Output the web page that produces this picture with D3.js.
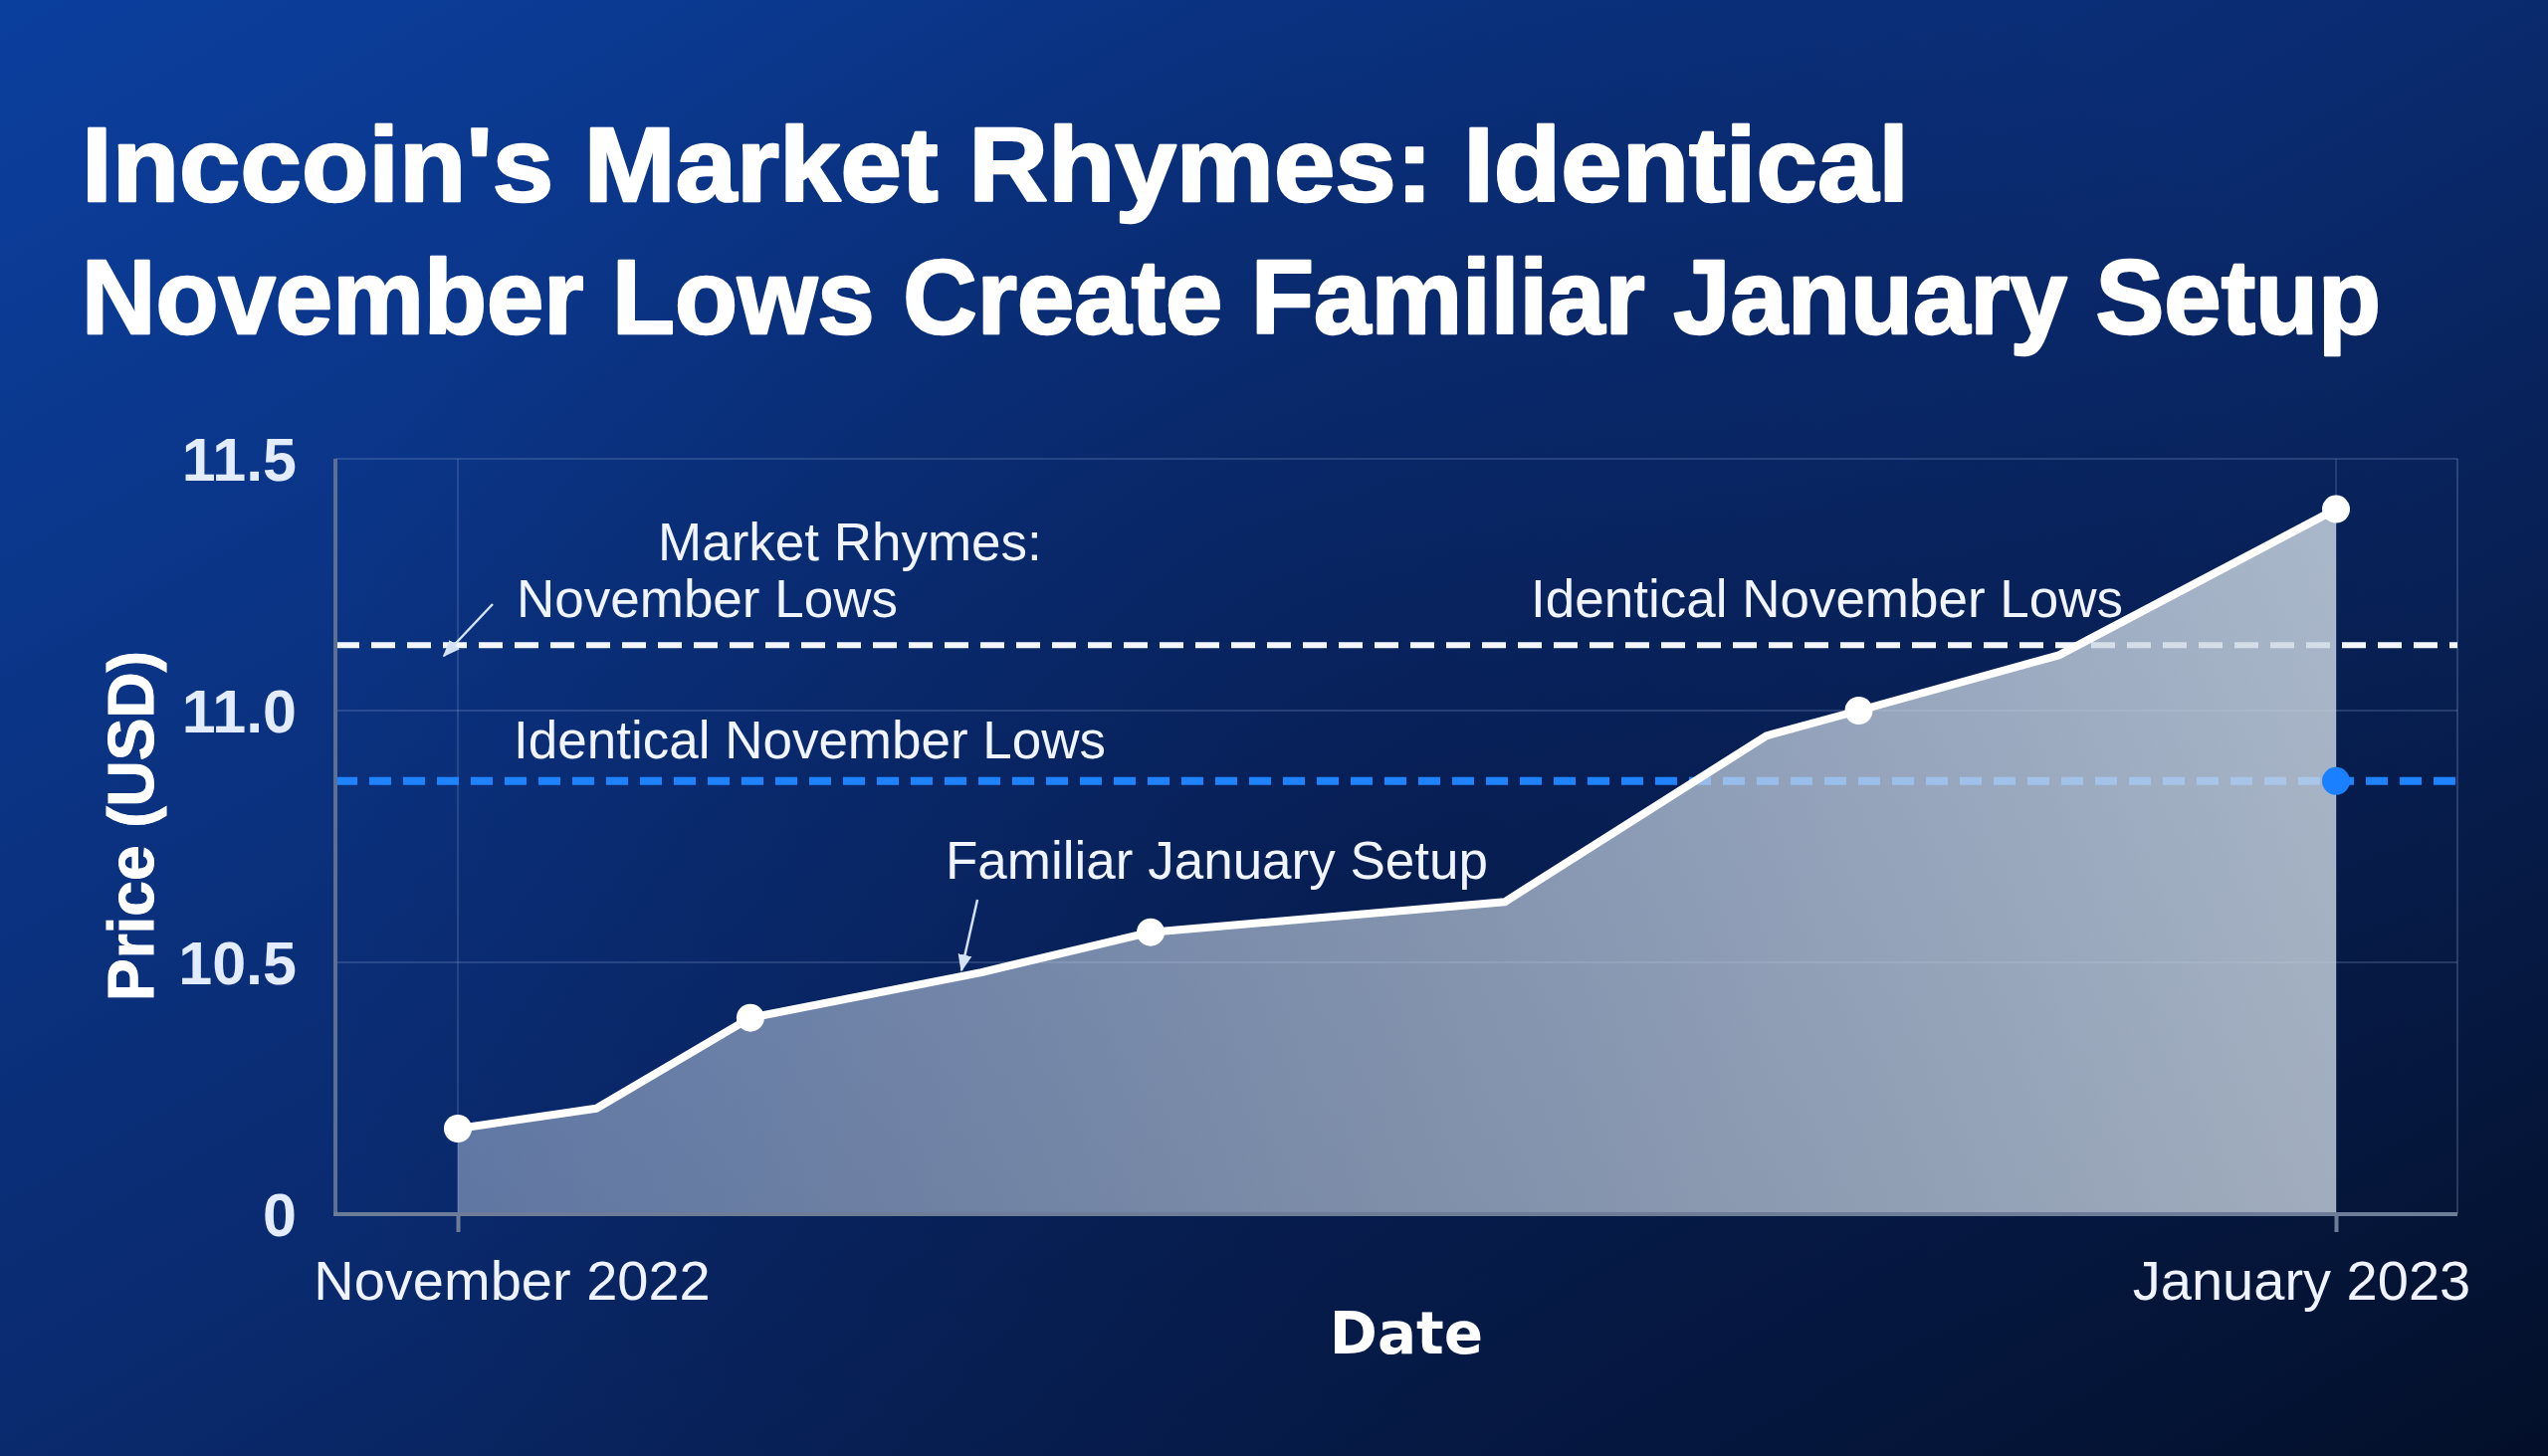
<!DOCTYPE html>
<html>
<head>
<meta charset="utf-8">
<script src="https://cdn.jsdelivr.net/npm/d3@7"></script>
<style>
html, body { margin: 0; padding: 0; background: #0a2a6e; overflow: hidden; }
svg { display: block; }
</style>
</head>
<body>
<script>
// ---------------- data ----------------
const titleLines = ["Inccoin's Market Rhymes: Identical", "November Lows Create Familiar January Setup"];
const dates  = ["2022-11-01T00:00", "2022-11-05T12:00", "2022-11-10T12:00", "2022-11-18T00:00", "2022-11-23T12:00",
                "2022-12-05T00:00", "2022-12-13T12:00", "2022-12-16T12:00", "2022-12-23T00:00", "2023-01-01T00:00"];
const prices = [10.17, 10.21, 10.39, 10.48, 10.56, 10.62, 10.95, 11.00, 11.11, 11.40];
const markedIndex = [0, 2, 4, 7, 9];
const whiteLevel = 11.13;   // "Market Rhymes: November Lows"
const blueLevel  = 10.86;   // "Identical November Lows"
const blueDotDate = "2023-01-01T00:00";
const yTickValues = [10, 10.5, 11, 11.5];
const yTickLabels = ["0", "10.5", "11.0", "11.5"];
const xTickDates  = ["2022-11-01T00:00", "2023-01-01T00:00"];
const xTickLabels = ["November 2022", "January 2023"];
const yTitle = "Price (USD)";
const xTitle = "Date";
const annWhite = ["Market Rhymes:", "November Lows"];
const annRight = "Identical November Lows";
const annBlue  = "Identical November Lows";
const annSetup = "Familiar January Setup";

// ---------------- layout ----------------
const W = 2560, H = 1463;
const plot = { left: 337, right: 2469, top: 461, bottom: 1220 };
const parse = d3.timeParse("%Y-%m-%dT%H:%M");
const pts = dates.map((d, i) => ({ date: parse(d), v: prices[i] }));

const x = d3.scaleTime().domain([parse(xTickDates[0]), parse(xTickDates[1])]).range([460, 2347]);
const y = d3.scaleLinear().domain([10, 11.5]).range([plot.bottom, plot.top]);

const FONT = "'Liberation Sans', Arial, Helvetica, sans-serif";

const svg = d3.select("body").append("svg").attr("width", W).attr("height", H);
const defs = svg.append("defs");

const bg = defs.append("linearGradient").attr("id", "bg")
  .attr("x1", 0).attr("y1", 0).attr("x2", 1).attr("y2", 1);
bg.append("stop").attr("offset", "0%").attr("stop-color", "#0b3f9e");
bg.append("stop").attr("offset", "50%").attr("stop-color", "#0a2a6e");
bg.append("stop").attr("offset", "100%").attr("stop-color", "#030f29");

const shade = defs.append("radialGradient").attr("id", "shade")
  .attr("gradientUnits", "userSpaceOnUse").attr("cx", 1400).attr("cy", 880).attr("r", 1100);
shade.append("stop").attr("offset", "0%").attr("stop-color", "#020c2a").attr("stop-opacity", 0.32);
shade.append("stop").attr("offset", "100%").attr("stop-color", "#020c2a").attr("stop-opacity", 0);

const ag = defs.append("linearGradient").attr("id", "areaGrad")
  .attr("gradientUnits", "userSpaceOnUse")
  .attr("x1", 460).attr("y1", 1220).attr("x2", 2347).attr("y2", 600);
ag.append("stop").attr("offset", "0%").attr("stop-color", "rgb(196,210,228)").attr("stop-opacity", 0.46);
ag.append("stop").attr("offset", "100%").attr("stop-color", "rgb(204,215,226)").attr("stop-opacity", 0.82);

defs.append("marker").attr("id", "arrow")
  .attr("viewBox", "0 0 10 10").attr("refX", 9).attr("refY", 5)
  .attr("markerWidth", 7).attr("markerHeight", 7).attr("markerUnits", "strokeWidth")
  .attr("orient", "auto")
  .append("path").attr("d", "M0,1 L10,5 L0,9 Z").attr("fill", "#d4e2f5");

svg.append("rect").attr("width", W).attr("height", H).attr("fill", "url(#bg)");
svg.append("rect").attr("width", W).attr("height", H).attr("fill", "url(#shade)");

// ---------------- grid ----------------
const grid = svg.append("g");
grid.selectAll("line.h").data(yTickValues.slice(1)).join("line")
  .attr("x1", plot.left).attr("x2", plot.right)
  .attr("y1", d => y(d)).attr("y2", d => y(d))
  .attr("stroke", "rgba(150,175,220,0.22)").attr("stroke-width", 2);
grid.selectAll("line.v").data(xTickDates).join("line")
  .attr("x1", d => x(parse(d))).attr("x2", d => x(parse(d)))
  .attr("y1", plot.top).attr("y2", plot.bottom)
  .attr("stroke", "rgba(150,175,220,0.2)").attr("stroke-width", 2);
grid.append("line").attr("x1", plot.right).attr("x2", plot.right)
  .attr("y1", plot.top).attr("y2", plot.bottom)
  .attr("stroke", "rgba(150,175,220,0.25)").attr("stroke-width", 2);

// ---------------- reference lines ----------------
svg.append("line").attr("x1", plot.left).attr("x2", plot.right)
  .attr("y1", y(whiteLevel)).attr("y2", y(whiteLevel))
  .attr("stroke", "#f4f7ff").attr("stroke-width", 6).attr("stroke-dasharray", "24,12");
svg.append("line").attr("x1", plot.left).attr("x2", plot.right)
  .attr("y1", y(blueLevel)).attr("y2", y(blueLevel))
  .attr("stroke", "#1f82ff").attr("stroke-width", 8).attr("stroke-dasharray", "22,12");

// ---------------- area + line ----------------
svg.append("path").datum(pts)
  .attr("d", d3.area().x(d => x(d.date)).y0(y(10)).y1(d => y(d.v)))
  .attr("fill", "url(#areaGrad)");
svg.append("path").datum(pts)
  .attr("d", d3.line().x(d => x(d.date)).y(d => y(d.v)))
  .attr("fill", "none").attr("stroke", "#ffffff").attr("stroke-width", 8)
  .attr("stroke-linejoin", "round").attr("stroke-linecap", "round");
svg.selectAll("circle.pt").data(markedIndex.map(i => pts[i])).join("circle")
  .attr("cx", d => x(d.date)).attr("cy", d => y(d.v)).attr("r", 14)
  .attr("fill", "#ffffff");
svg.append("circle").attr("cx", x(parse(blueDotDate))).attr("cy", y(blueLevel)).attr("r", 14)
  .attr("fill", "#1a80ff");

// ---------------- axes ----------------
const yAxis = svg.append("g").attr("transform", `translate(${plot.left},0)`)
  .call(d3.axisLeft(y).tickValues(yTickValues).tickSize(0).tickPadding(39)
        .tickFormat((d, i) => yTickLabels[i]));
yAxis.select(".domain").remove();
yAxis.selectAll("text").attr("font-family", FONT).attr("font-weight", 700)
  .attr("font-size", 61).attr("fill", "#e2ecfd").attr("dy", "0.36em");
svg.append("line").attr("x1", plot.left).attr("x2", plot.left)
  .attr("y1", plot.top).attr("y2", plot.bottom + 2)
  .attr("stroke", "#5f6f8f").attr("stroke-width", 4);

const xAxis = svg.append("g").attr("transform", `translate(0,${plot.bottom})`)
  .call(d3.axisBottom(x).tickValues(xTickDates.map(parse)).tickSize(18)
        .tickFormat((d, i) => xTickLabels[i]));
xAxis.select(".domain").remove();
xAxis.selectAll(".tick line").attr("stroke", "#6d7c97").attr("stroke-width", 4);
xAxis.selectAll("text").attr("font-family", FONT).attr("font-weight", 400)
  .attr("font-size", 56).attr("fill", "#eef3ff")
  .attr("y", 86).attr("dy", 0)
  .attr("dx", (d, i) => i === 0 ? 54 : -35);
svg.append("line").attr("x1", plot.left - 2).attr("x2", plot.right)
  .attr("y1", plot.bottom).attr("y2", plot.bottom)
  .attr("stroke", "#6d7c97").attr("stroke-width", 4);

// axis titles
svg.append("text").attr("transform", "translate(154,830) rotate(-90)")
  .attr("text-anchor", "middle").attr("font-family", FONT).attr("font-weight", 700)
  .attr("font-size", 64).attr("fill", "#ffffff")
  .attr("stroke", "#ffffff").attr("stroke-width", 1).text(yTitle);
svg.append("text").attr("x", 1413).attr("y", 1360).attr("text-anchor", "middle")
  .attr("font-family", "'DejaVu Sans', " + FONT).attr("font-weight", 700)
  .attr("font-size", 58).attr("fill", "#ffffff").text(xTitle);

// ---------------- title ----------------
const titleLayout = [{ y: 202, len: 1836 }, { y: 335, len: 2310 }];
svg.selectAll("text.title").data(titleLines).join("text")
  .attr("x", 82).attr("y", (d, i) => titleLayout[i].y)
  .attr("textLength", (d, i) => titleLayout[i].len).attr("lengthAdjust", "spacingAndGlyphs")
  .attr("font-family", FONT).attr("font-weight", 700).attr("font-size", 106)
  .attr("fill", "#ffffff").attr("stroke", "#ffffff").attr("stroke-width", 2.5)
  .attr("stroke-linejoin", "round").text(d => d);

// ---------------- annotations ----------------
const ann = svg.append("g").attr("font-family", FONT).attr("font-size", 53).attr("fill", "#f0f4ff");
ann.append("text").attr("x", 661).attr("y", 563).text(annWhite[0]);
ann.append("text").attr("x", 519).attr("y", 620).text(annWhite[1]);
ann.append("text").attr("x", 1538).attr("y", 620).text(annRight);
ann.append("text").attr("x", 516).attr("y", 762).text(annBlue);
ann.append("text").attr("x", 950).attr("y", 883).text(annSetup);

svg.append("line").attr("x1", 495).attr("y1", 607).attr("x2", 446).attr("y2", 659)
  .attr("stroke", "#d4e2f5").attr("stroke-width", 2.5).attr("marker-end", "url(#arrow)");
svg.append("line").attr("x1", 982).attr("y1", 904).attr("x2", 966).attr("y2", 975)
  .attr("stroke", "#d4e2f5").attr("stroke-width", 2.5).attr("marker-end", "url(#arrow)");
</script>
</body>
</html>
